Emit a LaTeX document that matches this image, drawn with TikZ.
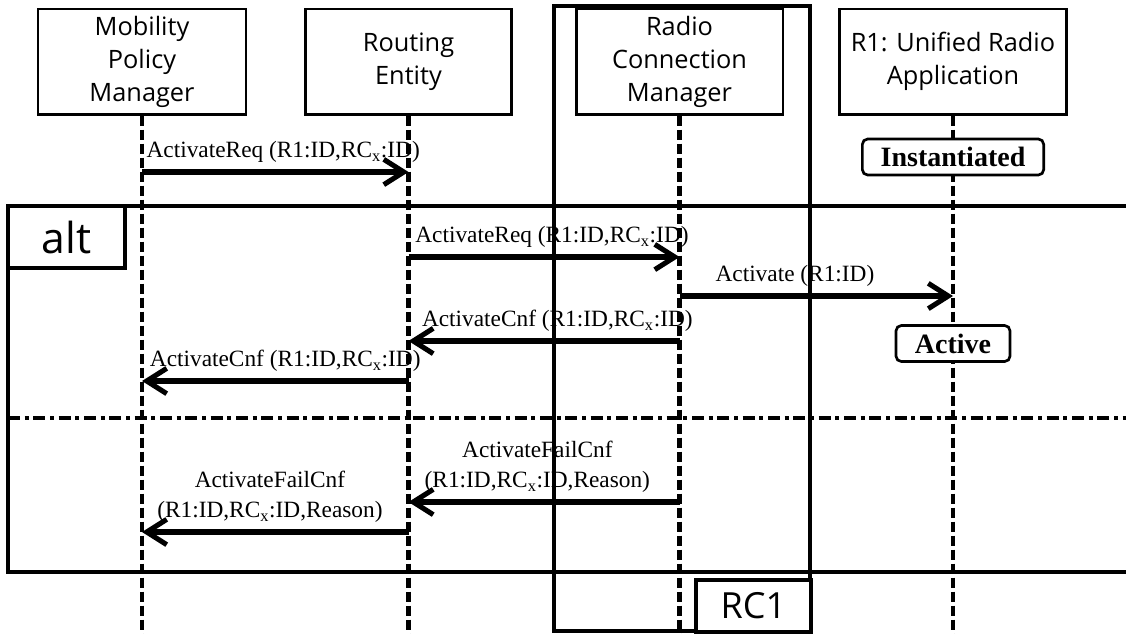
\documentclass[tikz,border=0pt]{standalone}
\usepackage{fontspec}
\setmainfont{Liberation Serif}
\setsansfont{Open Sans}
\usetikzlibrary{arrows.meta, positioning}

\begin{document}
\begin{tikzpicture}[
    x=0.75pt, y=-0.75pt,
    actor/.style={draw, line width=2pt, fill=white, minimum height=79pt, align=center, inner sep=2pt, font=\sffamily\fontsize{19}{24.8}\selectfont},
    life/.style={line width=3.4pt, dash pattern=on 7.5pt off 3pt},
    msg/.style={-{Straight Barb[length=15pt, width=19pt]}, line width=3.8pt},
    lbl/.style={align=center, inner sep=1pt, above=4pt, font=\fontsize{17.5}{22.5}\selectfont},
    state/.style={draw, line width=2pt, rounded corners=4pt, fill=white, inner sep=2pt, font=\bfseries\fontsize{21}{21}\selectfont},
    frame/.style={line width=3pt},
    tab/.style={draw, line width=3pt, fill=white, inner sep=0pt, font=\sffamily\fontsize{32}{32}\selectfont},
]
\useasboundingbox (0,0) rectangle (1126,633);

% Frames
\draw[frame] (1130,206) -| (8,572) -- (1130,572);
\draw[frame, dash pattern=on 9pt off 3.5pt on 3pt off 3.5pt] (8,418) -- (1130,418);
\draw[frame] (554,6) rectangle (810,631);

% Nodes
\node[actor, minimum width=156pt] (mpm) at (142,61.5) {Mobility\\Policy\\Manager};
\node[actor, minimum width=154.5pt] (re) at (408.5,61.5) {Routing\\Entity};
\node[actor, minimum width=155pt] (rcm) at (679.5,61.5) {Radio\\Connection\\Manager};
\node[actor, minimum width=170pt] (app) at (953,61.5) {R1: Unified Radio\\Application};

% Lifelines
\coordinate (bot) at (0,634);
\draw[life] (mpm.south) -- (mpm.south |- bot);
\draw[life] (re.south) -- (re.south |- bot);
\draw[life] (rcm.south) -- (rcm.south |- bot);
\draw[life] (app.south) -- (app.south |- bot);

% Message rows
\coordinate (r1) at (0,172);
\coordinate (r2) at (0,257);
\coordinate (r3) at (0,296);
\coordinate (r4) at (0,341);
\coordinate (r5) at (0,381);
\coordinate (r6) at (0,502);
\coordinate (r7) at (0,532);

% Messages
\draw[msg] (mpm |- r1) -- node[lbl, xshift=6pt] {ActivateReq (R1:ID,RC\textsubscript{x}:ID)} (re |- r1);
\draw[msg] (re |- r2) -- node[lbl, xshift=6pt] {ActivateReq (R1:ID,RC\textsubscript{x}:ID)} (rcm |- r2);
\draw[msg] (rcm |- r3) -- node[lbl, xshift=-16pt] {Activate (R1:ID)} (app |- r3);
\draw[msg] (rcm |- r4) -- node[lbl, xshift=10pt] {ActivateCnf (R1:ID,RC\textsubscript{x}:ID)} (re |- r4);
\draw[msg] (re |- r5) -- node[lbl, xshift=7.5pt] {ActivateCnf (R1:ID,RC\textsubscript{x}:ID)} (mpm |- r5);
\draw[msg] (rcm |- r6) -- node[lbl, xshift=-5pt] {ActivateFailCnf\\(R1:ID,RC\textsubscript{x}:ID,Reason)} (re |- r6);
\draw[msg] (re |- r7) -- node[lbl, xshift=-4pt] {ActivateFailCnf\\(R1:ID,RC\textsubscript{x}:ID,Reason)} (mpm |- r7);

% States
\node[state, minimum width=136pt, minimum height=27pt] (inst) at (app.south |- 0,157) {Instantiated};
\node[state, minimum width=85.5pt, minimum height=27pt] (act) at (app.south |- 0,343.5) {Active};

% Tabs
\node[tab, minimum width=88pt, minimum height=46.5pt] (alt) at (66.5,237) {alt};
\node[tab, minimum width=86pt, minimum height=39pt, font=\sffamily\fontsize{27}{27}\selectfont] (rc) at (753.5,606) {RC1};

\end{tikzpicture}
\end{document}
